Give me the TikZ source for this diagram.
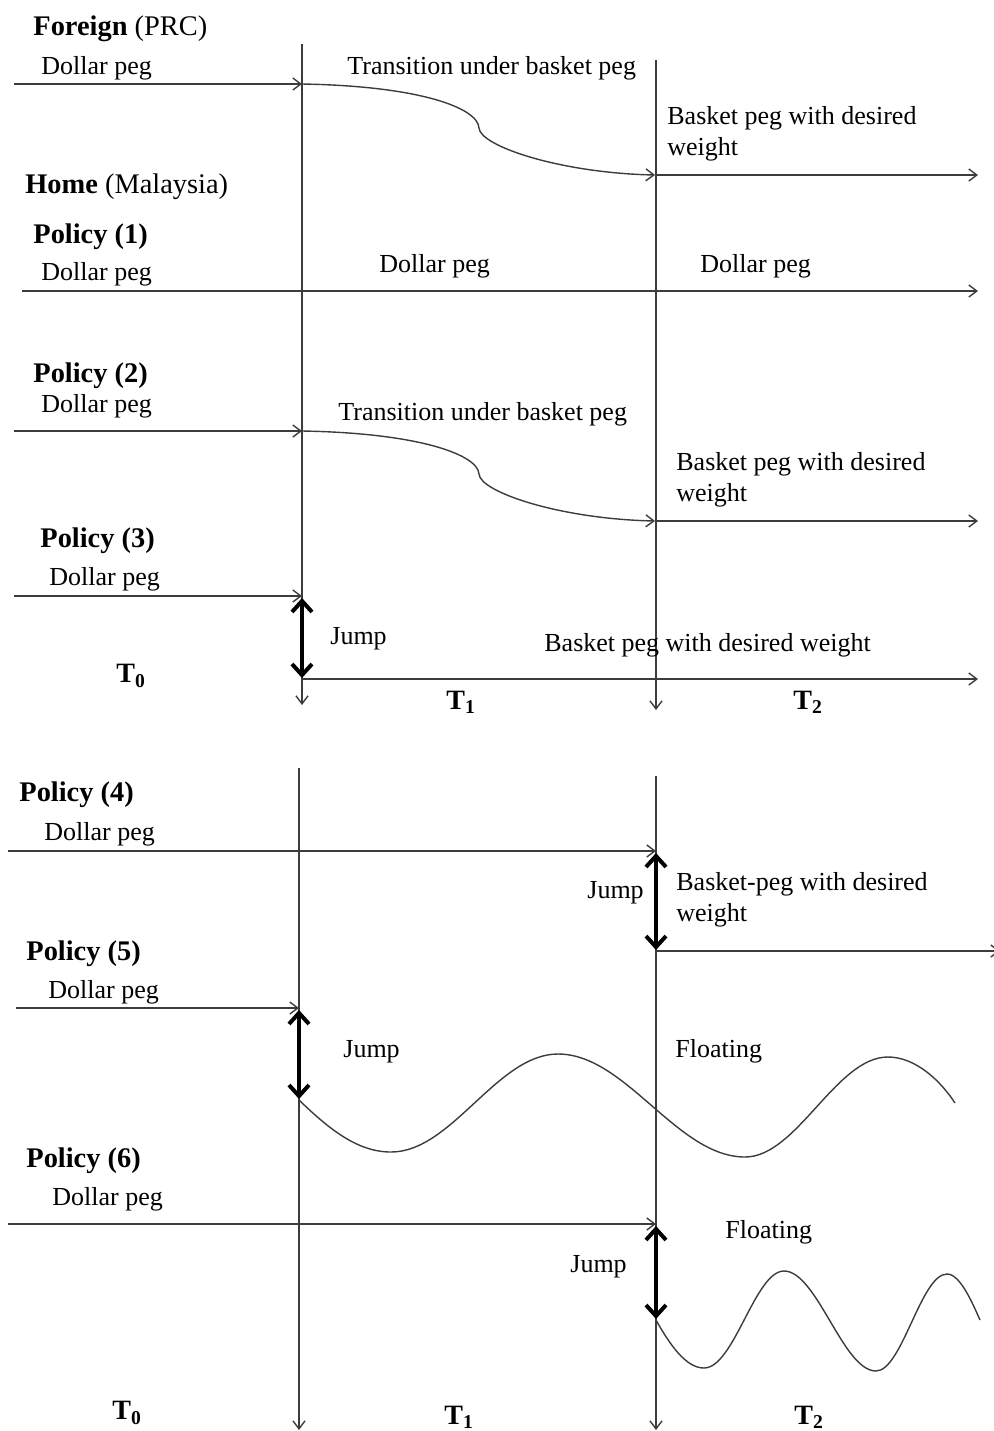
\documentclass[tikz,border=0pt]{standalone}
\usepackage{fontspec}
\setmainfont{Liberation Serif}
\usetikzlibrary{arrows.meta,positioning}
\definecolor{axisgray}{RGB}{60,60,60}

\begin{document}
\begin{tikzpicture}[x=0.5pt,y=-0.5pt,
    axis/.style={draw=axisgray, line width=0.7pt, -{Straight Barb[length=4pt,width=6pt]}},
    jumparrow/.style={draw=black, line width=2pt, {Straight Barb[length=5.5pt,width=10pt]}-{Straight Barb[length=5.5pt,width=10pt]}},
    lbl/.style={anchor=west, inner sep=0pt, yshift=-1.2pt, align=left, font=\fontsize{13}{15.5}\selectfont},
    head/.style={anchor=west, inner sep=0pt, yshift=-1.2pt, font=\fontsize{14.2}{17}\selectfont},
    tlbl/.style={anchor=west, inner sep=0pt, font=\fontsize{14}{17}\selectfont\bfseries}]
  \useasboundingbox (0,0) rectangle (993,1431);

  % upper chart
  \coordinate (topT0a) at (302,44);  \coordinate (topT0b) at (302,705);
  \coordinate (topT1a) at (656,60);  \coordinate (topT1b) at (656,710);
  \draw[axis] (topT0a) -- (topT0b);
  \draw[axis] (topT1a) -- (topT1b);

  \node[head] (foreign) at (33,26) {\textbf{Foreign} (PRC)};
  \node[lbl] (fDollar) at (41,66) {Dollar peg};
  \node[lbl] (fTrans) at (347,66) {Transition under basket peg};
  \node[lbl] (fBasket) at (667,131) {Basket peg with desired\\weight};
  \coordinate (fS) at (14,84); \coordinate (fA) at (302,84);
  \coordinate (fB) at (655,175); \coordinate (fE) at (978,175);
  \draw[axis] (fS) -- (fA);
  \draw[axis] (fA) .. controls (420,86) and (478,108) .. (479,128)
                   .. controls (480,146) and (560,173) .. (fB);
  \draw[axis] (fB) -- (fE);

  \node[head] (home) at (25,184) {\textbf{Home} (Malaysia)};

  \node[head] (pol1) at (33,234) {\textbf{Policy (1)}};
  \node[lbl] (p1Dollar) at (41,272) {Dollar peg};
  \node[lbl] (p1DollarB) at (379,264) {Dollar peg};
  \node[lbl] (p1DollarC) at (700,264) {Dollar peg};
  \coordinate (p1S) at (22,291); \coordinate (p1E) at (978,291);
  \draw[axis] (p1S) -- (p1E);

  \node[head] (pol2) at (33,373) {\textbf{Policy (2)}};
  \node[lbl] (p2Dollar) at (41,404) {Dollar peg};
  \node[lbl] (p2Trans) at (338,412) {Transition under basket peg};
  \node[lbl] (p2Basket) at (676,477) {Basket peg with desired\\weight};
  \coordinate (p2S) at (14,431); \coordinate (p2A) at (302,431);
  \coordinate (p2B) at (655,521); \coordinate (p2E) at (978,521);
  \draw[axis] (p2S) -- (p2A);
  \draw[axis] (p2A) .. controls (420,433) and (478,455) .. (479,474)
                    .. controls (480,492) and (560,519) .. (p2B);
  \draw[axis] (p2B) -- (p2E);

  \node[head] (pol3) at (40,538) {\textbf{Policy (3)}};
  \node[lbl] (p3Dollar) at (49,577) {Dollar peg};
  \node[lbl] (p3Jump) at (330,636) {Jump};
  \node[lbl] (p3Basket) at (544,643) {Basket peg with desired weight};
  \coordinate (p3S) at (14,596); \coordinate (p3A) at (302,596);
  \coordinate (p3B) at (302,679); \coordinate (p3E) at (978,679);
  \draw[axis] (p3S) -- (p3A);
  \draw[axis] (p3B) -- (p3E);
  \draw[jumparrow] ([yshift=-1pt]p3A) -- ([yshift=0.5pt]p3B);

  \node[tlbl] (topT0) at (116,676) {T\textsubscript{0}};
  \node[tlbl] (topT1) at (446,702) {T\textsubscript{1}};
  \node[tlbl] (topT2) at (793,702) {T\textsubscript{2}};

  % lower chart
  \coordinate (botT0a) at (299,768);  \coordinate (botT0b) at (299,1430);
  \coordinate (botT1a) at (656,776);  \coordinate (botT1b) at (656,1430);
  \draw[axis] (botT0a) -- (botT0b);
  \draw[axis] (botT1a) -- (botT1b);

  \node[head] (pol4) at (19,792) {\textbf{Policy (4)}};
  \node[lbl] (p4Dollar) at (44,832) {Dollar peg};
  \node[lbl] (p4Jump) at (587,890) {Jump};
  \node[lbl] (p4Basket) at (676,897) {Basket-peg with desired\\weight};
  \coordinate (p4S) at (8,851); \coordinate (p4A) at (656,851);
  \coordinate (p4B) at (656,951); \coordinate (p4E) at (1000,951);
  \draw[axis] (p4S) -- (p4A);
  \draw[axis] (p4B) -- (p4E);
  \draw[jumparrow] ([yshift=-1pt]p4A) -- ([yshift=0.5pt]p4B);

  \node[head] (pol5) at (26,951) {\textbf{Policy (5)}};
  \node[lbl] (p5Dollar) at (48,990) {Dollar peg};
  \node[lbl] (p5Jump) at (343,1049) {Jump};
  \node[lbl] (p5Float) at (675,1049) {Floating};
  \coordinate (p5S) at (16,1008); \coordinate (p5A) at (299,1008);
  \coordinate (p5B) at (299,1100); \coordinate (p5E) at (955,1103);
  \draw[axis] (p5S) -- (p5A);
  \draw[jumparrow] ([yshift=-1pt]p5A) -- ([yshift=0.5pt]p5B);
  \draw[axisgray, line width=0.7pt] (p5B)
      .. controls (330,1130) and (358,1152) .. (391,1152)
      .. controls (452,1152) and (497,1054) .. (558,1054)
      .. controls (626,1054) and (677,1157) .. (745,1157)
      .. controls (797,1157) and (836,1057) .. (888,1057)
      .. controls (915,1057) and (940,1080) .. (p5E);

  \node[head] (pol6) at (26,1158) {\textbf{Policy (6)}};
  \node[lbl] (p6Dollar) at (52,1197) {Dollar peg};
  \node[lbl] (p6Float) at (725,1230) {Floating};
  \node[lbl] (p6Jump) at (570,1264) {Jump};
  \coordinate (p6S) at (8,1224); \coordinate (p6A) at (656,1224);
  \coordinate (p6B) at (656,1320); \coordinate (p6E) at (980,1320);
  \draw[axis] (p6S) -- (p6A);
  \draw[jumparrow] ([yshift=-1pt]p6A) -- ([yshift=0.5pt]p6B);
  \draw[axisgray, line width=0.7pt] (p6B)
      .. controls (670,1345) and (686,1368) .. (704,1368)
      .. controls (734,1368) and (755,1271) .. (784,1271)
      .. controls (817,1271) and (843,1371) .. (876,1371)
      .. controls (902,1371) and (921,1274) .. (947,1274)
      .. controls (960,1274) and (972,1302) .. (p6E);

  \node[tlbl] (botT0) at (112,1413) {T\textsubscript{0}};
  \node[tlbl] (botT1) at (444,1417) {T\textsubscript{1}};
  \node[tlbl] (botT2) at (794,1417) {T\textsubscript{2}};
\end{tikzpicture}
\end{document}
